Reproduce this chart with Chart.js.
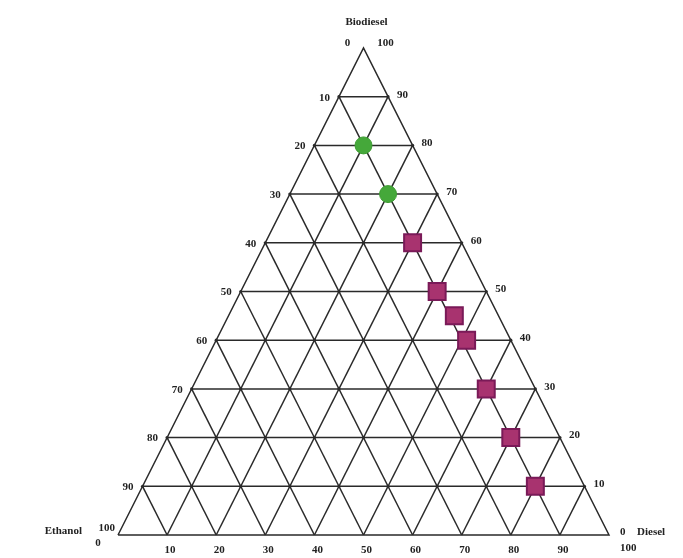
<!DOCTYPE html>
<html>
<head>
<meta charset="utf-8">
<script src="https://cdn.jsdelivr.net/npm/chart.js@4/dist/chart.umd.min.js"></script>
<style>
  html, body { margin: 0; padding: 0; background: #ffffff; }
  canvas { display: block; }
</style>
</head>
<body>
<canvas id="c" width="683" height="558"></canvas>
<script>
// Blend compositions in percent; ethanol is the remainder (100 - biodiesel - diesel).
const greenBiodiesel = [80, 70];
const greenDiesel    = [10, 20];
const pinkBiodiesel  = [60, 50, 45, 40, 30, 20, 10];
const pinkDiesel     = [30, 40, 46, 51, 60, 70, 80];

// Grid levels and the tick labels printed at them.
const gridLevels       = [10, 20, 30, 40, 50, 60, 70, 80, 90];
const leftTickLabels   = ['90', '80', '70', '60', '50', '40', '30', '20', '10']; // at biodiesel = 10..90
const rightTickLabels  = ['10', '20', '30', '40', '50', '60', '70', '80', '90']; // at biodiesel = 10..90
const bottomTickLabels = ['10', '20', '30', '40', '50', '60', '70', '80', '90']; // at diesel = 10..90

const axisNames = { top: 'Biodiesel', left: 'Ethanol', right: 'Diesel' };

// Ternary (biodiesel, diesel) -> plane coordinates on 0..100 axes.
function tern(b, d) { return { x: d + b / 2, y: b }; }

const LINE = '#2a2a2a';
const gridDatasets = [];

// outline of the triangle
gridDatasets.push({ data: [tern(0, 0), tern(0, 100), tern(100, 0), tern(0, 0)] });

// lines of constant biodiesel (horizontal), with a dot at every crossing
gridLevels.forEach(t => {
  const pts = [];
  for (let d = 0; d <= 100 - t; d += 10) pts.push(tern(t, d));
  gridDatasets.push({ data: pts, pointRadius: 1.6 });
});
// lines of constant diesel
gridLevels.forEach(t => {
  gridDatasets.push({ data: [tern(0, t), tern(100 - t, t)] });
});
// lines of constant ethanol
gridLevels.forEach(t => {
  gridDatasets.push({ data: [tern(0, 100 - t), tern(100 - t, 0)] });
});

gridDatasets.forEach(ds => {
  ds.showLine = true;
  ds.borderColor = LINE;
  ds.backgroundColor = LINE;
  ds.borderWidth = 1.5;
  if (ds.pointRadius === undefined) ds.pointRadius = 0;
  ds.pointBorderWidth = 0;
  ds.order = 2;
  ds.clip = false;
});

const markerDatasets = [
  {
    data: greenBiodiesel.map((b, i) => tern(b, greenDiesel[i])),
    pointStyle: 'circle',
    pointRadius: 8.5,
    backgroundColor: '#45a83a',
    borderColor: '#3d9c32',
    borderWidth: 1,
    showLine: false,
    order: 0,
    clip: false
  },
  {
    data: pinkBiodiesel.map((b, i) => tern(b, pinkDiesel[i])),
    pointStyle: 'rect',
    pointRadius: 12,
    backgroundColor: '#a8336f',
    borderColor: '#7a1a58',
    borderWidth: 2,
    showLine: false,
    order: 0,
    clip: false
  }
];

// Axis labels drawn next to the grid ends, positioned through the scales.
const ternaryLabels = {
  id: 'ternaryLabels',
  afterDatasetsDraw(chart) {
    const { ctx, scales: { x, y } } = chart;
    const px = p => ({ x: x.getPixelForValue(p.x), y: y.getPixelForValue(p.y) });
    ctx.save();
    ctx.fillStyle = '#222';
    ctx.font = 'bold 11px "Liberation Serif", "DejaVu Serif", serif';
    ctx.textBaseline = 'middle';

    gridLevels.forEach((t, i) => {
      const l = px(tern(t, 0));
      ctx.textAlign = 'right';
      ctx.fillText(leftTickLabels[i], l.x - 9, l.y + 1);
      const r = px(tern(t, 100 - t));
      ctx.textAlign = 'left';
      ctx.fillText(rightTickLabels[i], r.x + 9, r.y - 2);
      const b = px(tern(0, t));
      ctx.textAlign = 'center';
      ctx.fillText(bottomTickLabels[i], b.x + 3, b.y + 15);
    });

    const apex = px(tern(100, 0));
    const left = px(tern(0, 0));
    const right = px(tern(0, 100));

    ctx.textAlign = 'center';
    ctx.fillText(axisNames.top, apex.x + 3, apex.y - 26);
    ctx.fillText('0', apex.x - 16, apex.y - 5);
    ctx.fillText('100', apex.x + 22, apex.y - 5);

    ctx.textAlign = 'right';
    ctx.fillText(axisNames.left, left.x - 36, left.y - 4);
    ctx.fillText('100', left.x - 3, left.y - 7);
    ctx.textAlign = 'center';
    ctx.fillText('0', left.x - 20, left.y + 8);

    ctx.textAlign = 'left';
    ctx.fillText('0', right.x + 11, right.y - 3);
    ctx.fillText(axisNames.right, right.x + 28, right.y - 3);
    ctx.fillText('100', right.x + 11, right.y + 13);
    ctx.restore();
  }
};

new Chart(document.getElementById('c'), {
  type: 'scatter',
  data: { datasets: [...markerDatasets, ...gridDatasets] },
  options: {
    responsive: false,
    animation: false,
    layout: { padding: { left: 118, right: 74, top: 48, bottom: 23 } },
    scales: {
      x: { type: 'linear', min: 0, max: 100, display: false },
      y: { type: 'linear', min: 0, max: 100, display: false }
    },
    plugins: {
      legend: { display: false },
      tooltip: { enabled: false }
    }
  },
  plugins: [ternaryLabels]
});
</script>
</body>
</html>
